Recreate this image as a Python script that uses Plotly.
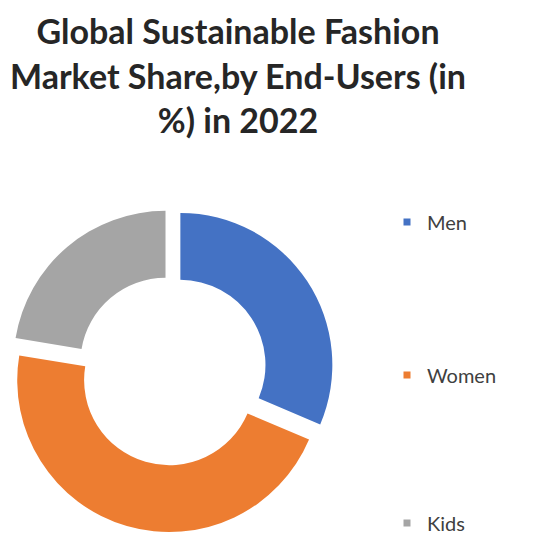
import plotly.graph_objects as go

labels = ["Men", "Women", "Kids"]
values = [31.4, 46.2, 22.4]
colors = ["#4472C4", "#ED7D31", "#A5A5A5"]
title_lines = ["Global Sustainable Fashion", "Market Share,by End-Users (in", "%) in 2022"]
legend_y_px = [222, 375, 523]  # legend entry vertical centres (layout only)

fig = go.Figure()
fig.add_trace(go.Pie(
    labels=labels, values=values, sort=False, direction="clockwise", rotation=0,
    hole=0.56, pull=[0.066] * len(labels),
    marker=dict(colors=colors, line=dict(width=0)),
    textinfo="none", hoverinfo="label+percent", showlegend=False,
    domain=dict(x=[10 / 534, 334 / 534], y=[0.002, 326 / 534]),
))
legend_names = ["legend", "legend2", "legend3"]
for lab, col, lg in zip(labels, colors, legend_names):
    fig.add_trace(go.Scatter(
        x=[None], y=[None], mode="markers", name=lab, legend=lg,
        marker=dict(symbol="square", size=7, color=col), showlegend=True,
    ))

legend_style = dict(x=387 / 534, xanchor="left", yanchor="middle",
                    yref="container", xref="container",
                    font=dict(family="Lato", size=20, color="#404040"),
                    bgcolor="rgba(0,0,0,0)")
layout_legends = {lg: dict(legend_style, y=1 - py / 534)
                  for lg, py in zip(legend_names, legend_y_px)}

fig.update_layout(
    width=534, height=534,
    margin=dict(l=0, r=0, t=0, b=0, autoexpand=False),
    paper_bgcolor="white", plot_bgcolor="white",
    xaxis=dict(visible=False), yaxis=dict(visible=False),
    title=dict(text="<br>".join(title_lines), x=238 / 534, xanchor="center",
               y=0.917, yanchor="top", yref="container",
               font=dict(family="Lato", size=34, color="#262626", weight="bold")),
    **layout_legends,
)
fig.write_html("out.html")
